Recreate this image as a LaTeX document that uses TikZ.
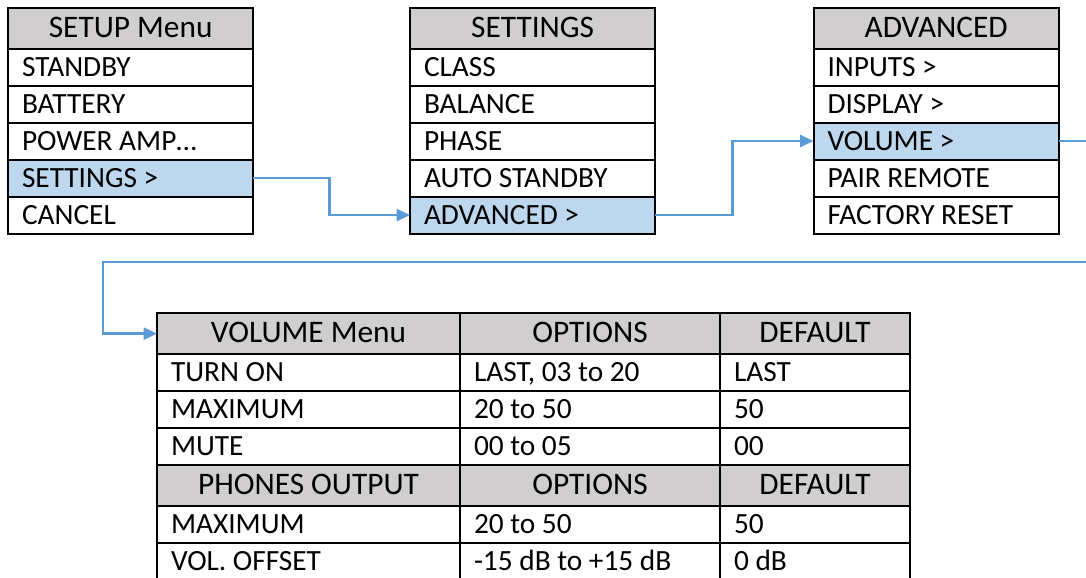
\documentclass[tikz,border=0pt]{standalone}
\usepackage{fontspec}
\setmainfont{Carlito}
\usetikzlibrary{arrows.meta,positioning}
\definecolor{hdgray}{RGB}{208,206,206}
\definecolor{selblue}{RGB}{189,215,238}
\definecolor{linkblue}{RGB}{91,155,213}
\tikzset{cell/.style={draw, line width=1.5pt, outer sep=0pt, inner ysep=0pt, text height=14pt, text depth=0pt, font=\fontsize{22}{26}\selectfont}}
\tikzstyle{hd}=[cell, fill=hdgray, minimum height=30.4pt, minimum width=184pt, inner xsep=0pt, align=center, font=\fontsize{23.5}{28}\selectfont]
\tikzstyle{it}=[cell, minimum height=27.75pt, inner xsep=10.5pt, text width=163pt, align=flush left]
\tikzstyle{sel}=[it, fill=selblue]
\tikzstyle{th}=[cell, fill=hdgray, minimum height=30.5pt, minimum width=#1, inner xsep=0pt, align=center, font=\fontsize{23.5}{28}\selectfont]
\tikzstyle{td}=[cell, minimum height=27.75pt, inner xsep=10.5pt, text width=#1, align=flush left]
\tikzstyle{link}=[draw=linkblue, line width=1.8pt, -{Triangle[length=10pt,width=9pt]}]

\begin{document}
\begin{tikzpicture}[x=0.75pt, y=-0.75pt]
\useasboundingbox (0,0) rectangle (1086,578);
\clip (0,0) rectangle (1086,578);

% SETUP menu
\node[hd, anchor=north west] at (8,8) (setup){SETUP Menu};
\node[it][below=0pt of setup] (S1){STANDBY};
\node[it][below=0pt of S1] (S2){BATTERY};
\node[it][below=0pt of S2] (S3){POWER AMP…};
\node[sel][below=0pt of S3] (S4){SETTINGS >};
\node[it][below=0pt of S4] (S5){CANCEL};

% SETTINGS menu
\node[hd, anchor=north west] at (410,8) (settings){SETTINGS};
\node[it][below=0pt of settings] (G1){CLASS};
\node[it][below=0pt of G1] (G2){BALANCE};
\node[it][below=0pt of G2] (G3){PHASE};
\node[it][below=0pt of G3] (G4){AUTO STANDBY};
\node[sel][below=0pt of G4] (G5){ADVANCED >};

% ADVANCED menu
\node[hd, anchor=north west] at (813.5,8) (advanced){ADVANCED};
\node[it][below=0pt of advanced] (A1){INPUTS >};
\node[it][below=0pt of A1] (A2){DISPLAY >};
\node[sel][below=0pt of A2] (A3){VOLUME >};
\node[it][below=0pt of A3] (A4){PAIR REMOTE};
\node[it][below=0pt of A4] (A5){FACTORY RESET};

% VOLUME table
\node[th=227.25pt, anchor=north west] at (157,313.3) (V0){VOLUME Menu};
\node[th=195pt][right=0pt of V0] (O0){OPTIONS};
\node[th=142.5pt][right=0pt of O0] (D0){DEFAULT};
\node[td=206.25pt][below=0pt of V0] (V1){TURN ON};
\node[td=174pt][right=0pt of V1] (O1){LAST, 03 to 20};
\node[td=121.5pt][right=0pt of O1] (D1){LAST};
\node[td=206.25pt][below=0pt of V1] (V2){MAXIMUM};
\node[td=174pt][right=0pt of V2] (O2){20 to 50};
\node[td=121.5pt][right=0pt of O2] (D2){50};
\node[td=206.25pt][below=0pt of V2] (V3){MUTE};
\node[td=174pt][right=0pt of V3] (O3){00 to 05};
\node[td=121.5pt][right=0pt of O3] (D3){00};
\node[th=227.25pt][below=0pt of V3] (P0){PHONES OUTPUT};
\node[th=195pt][right=0pt of P0] (Q0){OPTIONS};
\node[th=142.5pt][right=0pt of Q0] (E0){DEFAULT};
\node[td=206.25pt][below=0pt of P0] (P1){MAXIMUM};
\node[td=174pt][right=0pt of P1] (Q1){20 to 50};
\node[td=121.5pt][right=0pt of Q1] (E1){50};
\node[td=206.25pt][below=0pt of P1] (P2){VOL. OFFSET};
\node[td=174pt][right=0pt of P2] (Q2){-15 dB to +15 dB};
\node[td=121.5pt][right=0pt of Q2] (E2){0 dB};

% links
\coordinate (out) at (1100,262);
\coordinate (back) at (103,262);
\draw[link] (S4.east) -- ++(76,0) |- (G5.west);
\draw[link] (G5.east) -- ++(77,0) |- (A3.west);
\draw[link] (A3.east) -| (out) -- (back) |- (V0.west);
\end{tikzpicture}
\end{document}
